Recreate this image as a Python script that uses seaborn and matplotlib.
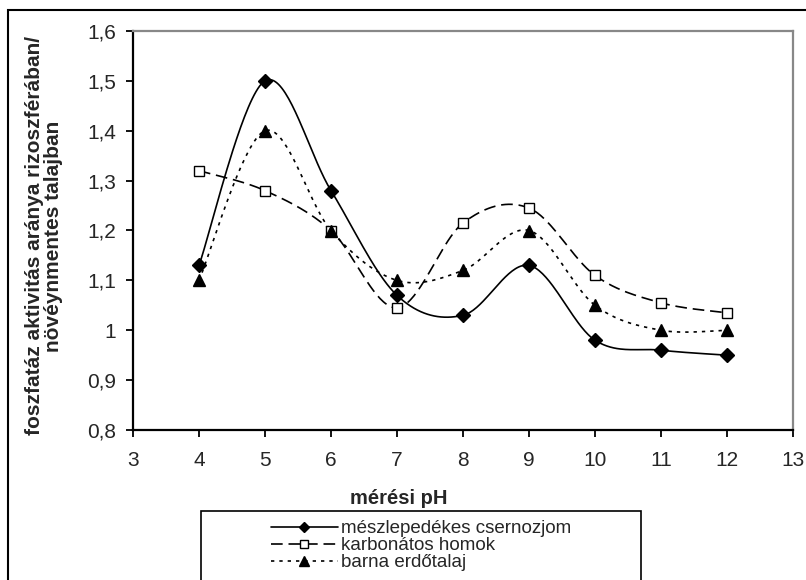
import numpy as np
import pandas as pd
import matplotlib
matplotlib.use("Agg")
import matplotlib.pyplot as plt
import seaborn as sns
from matplotlib.lines import Line2D
from matplotlib.patches import Rectangle
from matplotlib.ticker import FuncFormatter, MultipleLocator

# Data
ph = [4, 5, 6, 7, 8, 9, 10, 11, 12]
csernozjom = [1.13, 1.50, 1.28, 1.07, 1.03, 1.13, 0.98, 0.96, 0.95]
homok = [1.32, 1.28, 1.20, 1.045, 1.215, 1.245, 1.11, 1.055, 1.035]
erdotalaj = [1.10, 1.40, 1.20, 1.10, 1.12, 1.20, 1.05, 1.00, 1.00]

labels = ["mészlepedékes csernozjom", "karbonátos homok", "barna erdőtalaj"]
x_label = "mérési pH"
y_label = "foszfatáz aktivitás aránya rizoszférában/\nnövéynmentes talajban"


def smooth(x, y, n=40):
    # Excel-like smoothed line: Catmull-Rom bezier between the points
    p = np.column_stack([x, y]).astype(float)
    ext = np.vstack([p[0], p, p[-1]])
    t = np.linspace(0, 1, n)[:, None]
    parts = []
    for i in range(len(p) - 1):
        p0, p1, p2, p3 = ext[i], ext[i + 1], ext[i + 2], ext[i + 3]
        c1 = p1 + (p2 - p0) / 6
        c2 = p2 - (p3 - p1) / 6
        seg = ((1 - t) ** 3) * p1 + 3 * ((1 - t) ** 2) * t * c1 + 3 * (1 - t) * t ** 2 * c2 + t ** 3 * p2
        parts.append(seg if i == 0 else seg[1:])
    out = np.vstack(parts)
    return pd.DataFrame({"x": out[:, 0], "y": out[:, 1]})


def comma_fmt(v, pos):
    if abs(v - round(v)) < 1e-9:
        return str(int(round(v)))
    return f"{v:.1f}".replace(".", ",")


sns.set_style("white")
plt.rcParams["font.family"] = ["Liberation Sans", "DejaVu Sans"]

fig = plt.figure(figsize=(8.06, 5.8), dpi=100)
ax = fig.add_axes([133 / 806, 1 - 430 / 580, (793 - 133) / 806, (430 - 31) / 580])

styles = [
    dict(dashes=None, marker="D", mfc="black", ms=7, lms=5.5),
    dict(dashes=(7, 3.5), marker="s", mfc="white", ms=7, lms=6),
    dict(dashes=(2, 3), marker="^", mfc="black", ms=8, lms=6.5),
]
series = [csernozjom, homok, erdotalaj]

handles = []
for vals, st, lab in zip(series, styles, labels):
    curve = smooth(ph, vals)
    sns.lineplot(data=curve, x="x", y="y", sort=False, estimator=None, color="black",
                 linewidth=1.2, ax=ax, zorder=2)
    ln = ax.lines[-1]
    if st["dashes"] is not None:
        ln.set_dashes(st["dashes"])
    ax.plot(ph, vals, linestyle="none", marker=st["marker"], markersize=st["ms"],
            markerfacecolor=st["mfc"], markeredgecolor="black", markeredgewidth=1.0, zorder=3)
    h = Line2D([], [], color="black", linewidth=1.2, marker=st["marker"], markersize=st["lms"],
               markerfacecolor=st["mfc"], markeredgecolor="black")
    if st["dashes"] is not None:
        h.set_dashes(st["dashes"])
    handles.append(h)

ax.set_xlim(3, 13)
ax.set_ylim(0.8, 1.6)
ax.xaxis.set_major_locator(MultipleLocator(1))
ax.yaxis.set_major_locator(MultipleLocator(0.1))
ax.yaxis.set_major_formatter(FuncFormatter(comma_fmt))
ax.set_xlabel("")
ax.set_ylabel("")

for side in ["left", "bottom"]:
    ax.spines[side].set_color("black")
    ax.spines[side].set_linewidth(1.6)
for side in ["top", "right"]:
    ax.spines[side].set_color("#888888")
    ax.spines[side].set_linewidth(1.6)
ax.tick_params(axis="both", direction="out", length=5, width=1.3, color="black",
               labelsize=15, left=True, bottom=True)
ax.tick_params(axis="x", pad=10)
ax.tick_params(axis="y", pad=7)

fig.text(399 / 806, 1 - 499 / 580, x_label, ha="center", va="center", fontsize=14.5, fontweight="bold")
fig.text(44 / 806, 1 - 236 / 580, y_label, ha="center", va="center", rotation=90,
         fontsize=15, fontweight="bold", linespacing=1.05)

# legend frame (continues past the bottom edge) with centred entries
fig.patches.append(Rectangle((201 / 806, -0.2), 440 / 806, 0.2 + 1 - 511 / 580, transform=fig.transFigure,
                             fill=True, facecolor="white", edgecolor="black", linewidth=1.2))
leg = fig.legend(handles, labels, loc="upper center", bbox_to_anchor=(421 / 806, 1 - 520 / 580),
                 frameon=False, fontsize=13.5, handlelength=3.6, handletextpad=0.15,
                 labelspacing=0.0, borderpad=0, borderaxespad=0)
leg._legend_box.align = "left"

# outer chart border (continues past the bottom/right image edge)
fig.patches.append(Rectangle((8 / 806, -0.2), 1.2, 1 - 10 / 580 + 0.2, transform=fig.transFigure,
                             fill=False, edgecolor="black", linewidth=1.5))

fig.savefig("out.png", dpi=100)
